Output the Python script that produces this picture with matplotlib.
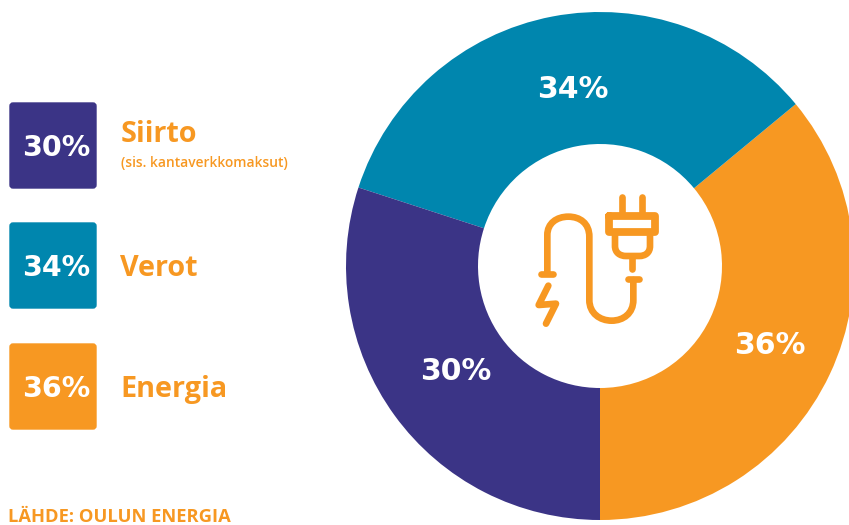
import matplotlib
matplotlib.use("Agg")
import matplotlib.pyplot as plt
from matplotlib.patches import FancyBboxPatch
from matplotlib.path import Path
from matplotlib.patches import PathPatch

categories = ["Energia", "Verot", "Siirto"]
values = [36, 34, 30]
colors = ["#F79822", "#0086AE", "#3B3486"]
label_centres = [(770, 345), (573, 90), (456, 372)]
legend_order = ["Siirto", "Verot", "Energia"]
legend_tops = [102, 222, 343]
ORANGE = "#F79822"
H = 525
FONT = "Open Sans"
NUM_FONT = "DejaVu Sans"

fig = plt.figure(figsize=(8.49, 5.25), dpi=100, facecolor="white")
ax = fig.add_axes([0, 0, 1, 1])

wedges, _, autotexts = ax.pie(
    values, colors=colors, startangle=270, counterclock=True,
    center=(600, H - 266), radius=254, frame=True,
    wedgeprops=dict(width=132, linewidth=0),
    autopct=lambda p: f"{p:.0f}%", pctdistance=0.74,
    textprops=dict(color="white", fontsize=21.5, fontweight="bold", family=NUM_FONT),
)
for t, (px, py) in zip(autotexts, label_centres):
    t.set_position((px, H - py))
ax.set_xlim(0, 849)
ax.set_ylim(0, H)
ax.set_aspect("equal")
ax.axis("off")

# legend blocks
lookup = dict(zip(categories, zip(values, colors)))
for name, top in zip(legend_order, legend_tops):
    v, c = lookup[name]
    ax.add_patch(FancyBboxPatch((10, H - top - 86), 86, 85,
                                boxstyle="round,pad=0,rounding_size=3",
                                fc=c, ec=c, lw=1))
    ax.text(56.5, H - top - 46, f"{v}%", color="white", fontsize=20.5,
            fontweight="bold", family=NUM_FONT, ha="center", va="center")
    ax.text(120.5, H - top - (33 if name == "Siirto" else 47), name, color=ORANGE,
            fontsize=20.7, fontweight="bold", family=FONT, ha="left", va="center")
ax.text(121, H - 163, "(sis. kantaverkkomaksut)", color=ORANGE, fontsize=9.9,
        fontweight="semibold", family=FONT, ha="left", va="center")
ax.text(8, H - 517, "LÄHDE: OULUN ENERGIA", color=ORANGE, fontsize=13.2,
        fontweight="bold", family=FONT, ha="left", va="center")

# plug icon, zoomed-crop coordinates -> figure pixels
def P(x, y):
    return (500 + x / 3, H - (170 + y / 3))

def stroke(points, codes=None, lw=4.8):
    verts = [P(*p) for p in points]
    path = Path(verts, codes) if codes else Path(verts)
    ax.add_patch(PathPatch(path, fc="none", ec=ORANGE, lw=lw,
                           capstyle="round", joinstyle="round"))

M, L, C = Path.MOVETO, Path.LINETO, Path.CURVE4
stroke([(142, 310), (142, 195), (142, 160), (170, 140), (205, 140),
        (240, 140), (268, 160), (268, 200), (268, 390), (268, 430),
        (300, 452), (335, 452), (370, 452), (400, 430), (400, 390), (400, 330)],
       [M, L, C, C, C, C, C, C, L, C, C, C, C, C, C, L])
stroke([(124, 313), (160, 313)])
stroke([(383, 328), (416, 328)])
stroke([(367, 82), (367, 130)])
stroke([(425, 82), (425, 130)])
stroke([(327, 138), (466, 138), (466, 186), (327, 186), (327, 138)], lw=5.6)
stroke([(345, 190), (345, 228), (345, 248), (360, 258), (378, 258), (418, 258),
        (436, 258), (450, 248), (450, 228), (450, 190)],
       [M, L, C, C, C, L, C, C, C, L])
stroke([(397, 258), (397, 298)])
stroke([(145, 347), (116, 405), (168, 401), (138, 461)])

fig.savefig("out.png", dpi=100, facecolor="white")
